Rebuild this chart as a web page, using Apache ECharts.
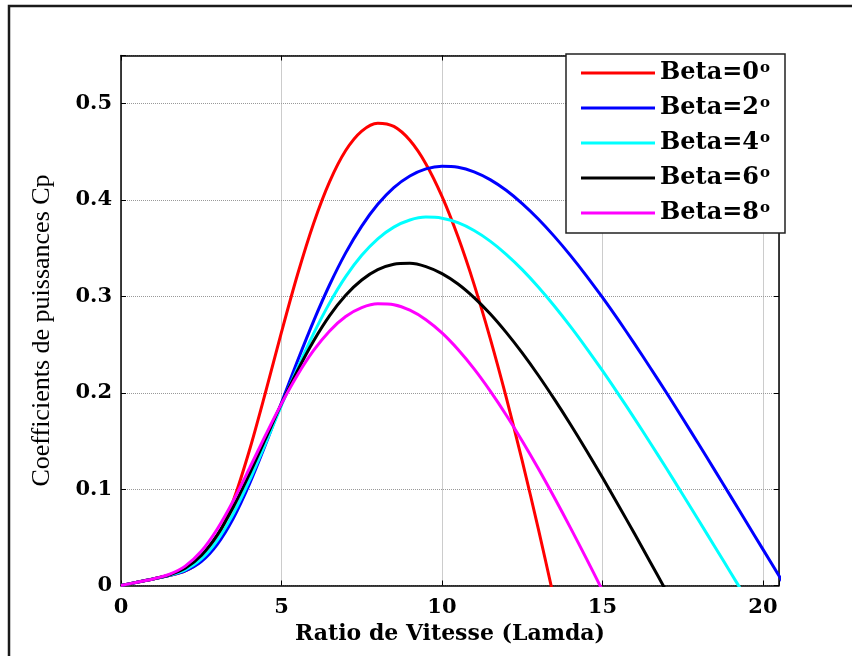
<!DOCTYPE html>
<html>
<head>
<meta charset="utf-8">
<script src="https://cdn.jsdelivr.net/npm/echarts@6/dist/echarts.min.js"></script>
<style>
  html, body { margin: 0; padding: 0; background: #fff; }
  #chart { width: 852px; height: 656px; }
</style>
</head>
<body>
<div id="chart"></div>
<script>
// tip speed ratio, step 0.5
var lambda = [0, 0.5, 1, 1.5, 2, 2.5, 3, 3.5, 4, 4.5, 5, 5.5, 6, 6.5, 7, 7.5, 8, 8.5, 9, 9.5,
  10, 10.5, 11, 11.5, 12, 12.5, 13, 13.5, 14, 14.5, 15, 15.5, 16, 16.5, 17, 17.5, 18, 18.5,
  19, 19.5, 20, 20.5, 21];

// Cp (last point of each goes just under 0, clipped by the axis)
var cpBeta0 = [0, 0.0034, 0.0068, 0.0103, 0.0151, 0.0261, 0.0495, 0.0882, 0.1401, 0.2002,
  0.2629, 0.3227, 0.3757, 0.4191, 0.4514, 0.4716, 0.4798, 0.4764, 0.4620, 0.4375,
  0.4038, 0.3618, 0.3125, 0.2567, 0.1954, 0.1293, 0.0590, -0.0150];
var cpBeta2 = [0, 0.0034, 0.0068, 0.0103, 0.0152, 0.0248, 0.0428, 0.0698, 0.1052, 0.1461,
  0.1897, 0.2331, 0.2744, 0.3121, 0.3452, 0.3730, 0.3956, 0.4129, 0.4250, 0.4324,
  0.4352, 0.4341, 0.4293, 0.4212, 0.4101, 0.3963, 0.3803, 0.3623, 0.3426, 0.3214,
  0.2989, 0.2753, 0.2508, 0.2255, 0.1997, 0.1733, 0.1465, 0.1195, 0.0922, 0.0649,
  0.0375, 0.0101, -0.0173];
var cpBeta4 = [0, 0.0034, 0.0068, 0.0105, 0.0163, 0.0275, 0.0469, 0.0746, 0.1090, 0.1473,
  0.1870, 0.2256, 0.2614, 0.2933, 0.3206, 0.3427, 0.3598, 0.3719, 0.3793, 0.3823,
  0.3812, 0.3765, 0.3684, 0.3574, 0.3437, 0.3278, 0.3098, 0.2901, 0.2689, 0.2464,
  0.2229, 0.1984, 0.1732, 0.1474, 0.1211, 0.0944, 0.0674, 0.0403, 0.0130, -0.0143];
var cpBeta6 = [0, 0.0034, 0.0068, 0.0109, 0.0179, 0.0312, 0.0526, 0.0815, 0.1156, 0.1521,
  0.1887, 0.2230, 0.2538, 0.2801, 0.3012, 0.3170, 0.3277, 0.3333, 0.3343, 0.3309,
  0.3236, 0.3128, 0.2987, 0.2820, 0.2627, 0.2414, 0.2182, 0.1934, 0.1674, 0.1402,
  0.1120, 0.0831, 0.0536, 0.0237, -0.0066];
var cpBeta8 = [0, 0.0034, 0.0068, 0.0115, 0.0201, 0.0355, 0.0587, 0.0881, 0.1214, 0.1557,
  0.1887, 0.2185, 0.2439, 0.2642, 0.2791, 0.2883, 0.2923, 0.2914, 0.2857, 0.2758,
  0.2621, 0.2449, 0.2248, 0.2020, 0.1770, 0.1500, 0.1214, 0.0913, 0.0601, 0.0279,
  -0.0051];

var names = ['Beta=0', 'Beta=2', 'Beta=4', 'Beta=6', 'Beta=8'];
var colors = ['#ff0000', '#0000ff', '#00ffff', '#000000', '#ff00ff'];
var cpAll = [cpBeta0, cpBeta2, cpBeta4, cpBeta6, cpBeta8];

var serifB = "'DejaVu Serif', serif";

function pairs(vals) {
  return vals.map(function (v, i) { return [lambda[i], v]; });
}

var myChart = echarts.init(document.getElementById('chart'));

var series = cpAll.map(function (vals, i) {
  return {
    name: names[i],
    type: 'line',
    data: pairs(vals),
    symbol: 'none',
    smooth: 0.3,
    lineStyle: { color: colors[i], width: 3 },
    itemStyle: { color: colors[i] }
  };
});

// box axes (top / right) only carry ticks
function boxX() {
  return {
    type: 'value', position: 'top', min: 0, max: 20.5, interval: 5,
    axisLine: { onZero: false, lineStyle: { color: '#000', width: 1.5 } },
    axisTick: { inside: true, length: 5, lineStyle: { color: '#000' } },
    axisLabel: { show: false },
    splitLine: { show: false }
  };
}
function boxY() {
  return {
    type: 'value', position: 'right', min: 0, max: 0.55, interval: 0.1,
    axisLine: { show: true, onZero: false, lineStyle: { color: '#000', width: 1.5 } },
    axisTick: { show: true, inside: true, length: 5, lineStyle: { color: '#000' } },
    axisLabel: { show: false },
    splitLine: { show: false }
  };
}

var option = {
  backgroundColor: '#fff',
  animation: false,
  color: colors,
  grid: { left: 121, right: 73, top: 55.5, bottom: 70.5 },
  legend: {
    data: names,
    orient: 'vertical',
    left: 566,
    top: 54,
    padding: [6, 8, 7, 15],
    icon: 'rect',
    itemWidth: 74,
    itemHeight: 3,
    itemGap: 9,
    z: 10,
    formatter: function (n) { return n + '{s|o}'; },
    textStyle: {
      fontFamily: serifB, fontWeight: 'bold', fontSize: 24, color: '#000', lineHeight: 26,
      rich: { s: { fontFamily: serifB, fontWeight: 'bold', fontSize: 15, color: '#000', padding: [0, 0, 10, 1] } }
    }
  },
  graphic: [
    {
      type: 'rect', z: 5,
      shape: { x: 566, y: 54, width: 219, height: 179 },
      style: { fill: '#fff', stroke: '#222', lineWidth: 1.5 }
    },
    {
      type: 'polyline', z: 5,
      shape: { points: [[9, 656], [9, 6], [852, 6]] },
      style: { fill: null, stroke: '#1a1a1a', lineWidth: 2.5 }
    }
  ],
  xAxis: [
    {
      type: 'value', min: 0, max: 20.5, interval: 5,
      name: 'Ratio de Vitesse (Lamda)',
      nameLocation: 'middle', nameGap: 21,
      nameTextStyle: { fontFamily: serifB, fontWeight: 'bold', fontSize: 22, color: '#000' },
      axisLine: { onZero: false, lineStyle: { color: '#000', width: 1.5 } },
      axisTick: { inside: true, length: 5, lineStyle: { color: '#000' } },
      axisLabel: {
        margin: 12, fontFamily: serifB, fontWeight: 'bold', fontSize: 21, color: '#000',
        formatter: function (v) { return v % 5 === 0 ? String(v) : ''; }
      },
      splitLine: { show: true, lineStyle: { color: '#999', type: 'dotted', width: 1 } }
    },
    boxX()
  ],
  yAxis: [
    {
      type: 'value', min: 0, max: 0.55, interval: 0.1,
      name: 'Coefficients de puissances Cp',
      nameLocation: 'middle', nameGap: 66,
      nameTextStyle: {
        fontFamily: "'Liberation Serif', serif", fontSize: 26, color: '#000',
        padding: [0, 20, 0, 0]
      },
      axisLine: { show: true, onZero: false, lineStyle: { color: '#000', width: 1.5 } },
      axisTick: { show: true, inside: true, length: 5, lineStyle: { color: '#000' } },
      axisLabel: {
        margin: 9, fontFamily: serifB, fontWeight: 'bold', fontSize: 21, color: '#000',
        formatter: function (v) {
          var t = v * 10;
          return Math.abs(t - Math.round(t)) < 1e-6 ? String(Math.round(t) / 10) : '';
        }
      },
      splitLine: { show: true, lineStyle: { color: '#999', type: 'dotted', width: 1 } }
    },
    boxY()
  ],
  series: series
};

myChart.setOption(option);
</script>
</body>
</html>
